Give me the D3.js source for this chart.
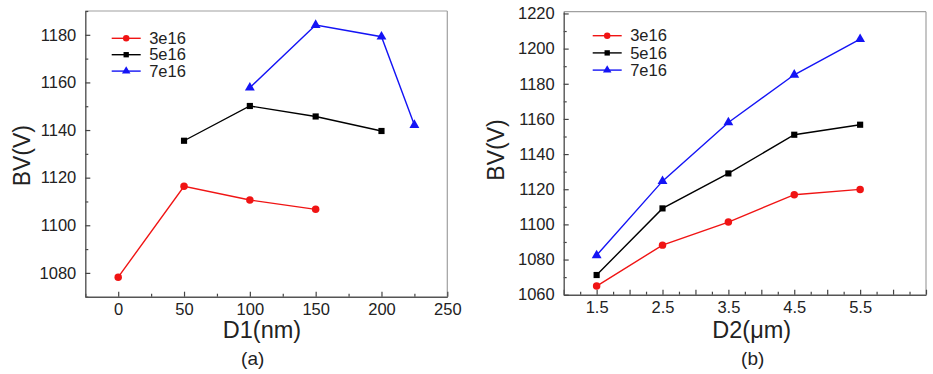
<!DOCTYPE html>
<html>
<head>
<meta charset="utf-8">
<script src="https://cdn.jsdelivr.net/npm/d3@7"></script>
<style>
  body { margin: 0; background: #fff; }
  svg { font-family: "Liberation Sans", Arial, sans-serif; }
</style>
</head>
<body>
<svg id="chart" width="933" height="374"></svg>
<script>
// series names
const seriesNames = ["3e16", "5e16", "7e16"];
const seriesColors = ["#f01414", "#000000", "#1414f5"];

// panel (a): BV vs D1
const d1_3e16 = [0, 50, 100, 150];
const bvA_3e16 = [1078.2, 1116.4, 1110.6, 1106.7];
const d1_5e16 = [50, 100, 150, 200];
const bvA_5e16 = [1135.5, 1150.1, 1145.7, 1139.6];
const d1_7e16 = [100, 150, 200, 225];
const bvA_7e16 = [1157.8, 1184.1, 1179.2, 1142.1];

// panel (b): BV vs D2
const d2 = [1.5, 2.5, 3.5, 4.5, 5.5];
const bvB_3e16 = [1064.9, 1088.2, 1101.3, 1116.9, 1119.9];
const bvB_5e16 = [1071.2, 1109.1, 1129.0, 1151.0, 1156.7];
const bvB_7e16 = [1082.4, 1124.6, 1158.0, 1185.1, 1205.4];

// tick labels
const xTicksA = [0, 50, 100, 150, 200, 250];
const yTicksA = [1080, 1100, 1120, 1140, 1160, 1180];
const xLabelsB = [1.5, 2.5, 3.5, 4.5, 5.5];
const yTicksB = [1060, 1080, 1100, 1120, 1140, 1160, 1180, 1200, 1220];

const svg = d3.select("#chart");
const markers = [d3.symbolCircle, d3.symbolSquare, d3.symbolTriangle];
const markerSize = [44, 38, 42];

function drawPanel(p) {
  let g = svg.append("g");
  let x = d3.scaleLinear().domain(p.xDomain).range([p.left, p.right]);
  let y = d3.scaleLinear().domain(p.yDomain).range([p.bottom, p.top]);

  // frame (top/right lighter)
  g.append("line").attr("x1", p.left).attr("x2", p.right).attr("y1", p.top).attr("y2", p.top)
    .style("stroke", "#a0a0a0").style("stroke-width", 1.2);
  g.append("line").attr("x1", p.right).attr("x2", p.right).attr("y1", p.top).attr("y2", p.bottom)
    .style("stroke", "#a0a0a0").style("stroke-width", 1.2);

  // minor ticks
  g.append("g")
    .attr("transform", "translate(0," + p.bottom + ")")
    .call(d3.axisBottom(x).tickValues(p.xMinor).tickSize(-3).tickFormat(""))
    .call(a => a.select(".domain").remove());
  g.append("g")
    .attr("transform", "translate(" + p.left + ",0)")
    .call(d3.axisLeft(y).tickValues(p.yMinor).tickSize(-3).tickFormat(""))
    .call(a => a.select(".domain").remove());

  // major axes
  let xa = g.append("g")
    .attr("transform", "translate(0," + p.bottom + ")")
    .call(d3.axisBottom(x).tickValues(p.xMajor).tickSize(-5).tickSizeOuter(0).tickPadding(6.8)
      .tickFormat(d => p.xLabels.includes(d) ? p.xFmt(d) : ""));
  let ya = g.append("g")
    .attr("transform", "translate(" + p.left + ",0)")
    .call(d3.axisLeft(y).tickValues(p.yTicks).tickSize(-5).tickSizeOuter(0).tickPadding(9)
      .tickFormat(d3.format("d")));
  g.selectAll(".tick line").style("stroke", "#444").style("stroke-width", 1.2);
  g.selectAll(".domain").style("stroke", "#555").style("stroke-width", 1.4);
  g.selectAll(".tick text").style("font-size", "16.5px").style("fill", "#222");

  // series lines and markers
  p.series.forEach((s, i) => {
    let pts = s.xs.map((v, j) => [x(v), y(s.ys[j])]);
    g.append("path")
      .attr("d", d3.line()(pts))
      .style("fill", "none")
      .style("stroke", seriesColors[i])
      .style("stroke-width", 1.4);
    g.selectAll(null).data(pts).enter().append("path")
      .attr("transform", d => "translate(" + d[0] + "," + d[1] + ")")
      .attr("d", d3.symbol().type(markers[i]).size(markerSize[i]))
      .style("fill", seriesColors[i]);
  });

  // legend
  seriesNames.forEach((name, i) => {
    let ly = p.legY + i * p.legStep;
    g.append("line")
      .attr("x1", p.legX).attr("x2", p.legX + 29)
      .attr("y1", ly).attr("y2", ly)
      .style("stroke", seriesColors[i]).style("stroke-width", 1.4);
    g.append("path")
      .attr("transform", "translate(" + (p.legX + 14.5) + "," + ly + ")")
      .attr("d", d3.symbol().type(markers[i]).size(markerSize[i] * 0.75))
      .style("fill", seriesColors[i]);
    g.append("text")
      .attr("x", p.legX + 37.5)
      .attr("y", ly)
      .attr("dy", "0.35em")
      .text(name)
      .style("font-size", "16.5px")
      .style("fill", "#222");
  });

  // axis titles
  g.append("text")
    .attr("transform", "translate(" + p.yTitleX + "," + p.yTitleY + ")rotate(-90)")
    .text("BV(V)")
    .style("text-anchor", "middle")
    .style("font-size", "23px")
    .style("fill", "#222");
  g.append("text")
    .attr("x", p.xTitleX)
    .attr("y", 338)
    .text(p.xTitle)
    .style("text-anchor", "middle")
    .style("font-size", "23.5px")
    .style("fill", "#222");
  g.append("text")
    .attr("x", p.capX)
    .attr("y", 365)
    .text(p.caption)
    .style("text-anchor", "middle")
    .style("font-size", "19px")
    .style("fill", "#222");
}

drawPanel({
  left: 85.3, right: 447.3, top: 11, bottom: 296.7,
  xDomain: [-25, 250], yDomain: [1070, 1190],
  xMajor: xTicksA, xLabels: xTicksA, xFmt: d3.format("d"),
  xMinor: [-25, 25, 75, 125, 175, 225],
  yTicks: yTicksA, yMinor: [1070, 1090, 1110, 1130, 1150, 1170, 1190],
  series: [
    { xs: d1_3e16, ys: bvA_3e16 },
    { xs: d1_5e16, ys: bvA_5e16 },
    { xs: d1_7e16, ys: bvA_7e16 }
  ],
  legX: 111.7, legY: 38.3, legStep: 16.4,
  yTitleX: 30, yTitleY: 155.7,
  xTitle: "D1(nm)", xTitleX: 262,
  caption: "(a)", capX: 252.7
});

drawPanel({
  left: 563.7, right: 926, top: 11.7, bottom: 294.7,
  xDomain: [1, 6.5], yDomain: [1060, 1221],
  xMajor: d3.range(1, 6.51, 0.5), xLabels: xLabelsB, xFmt: d3.format(".1f"),
  xMinor: d3.range(1.25, 6.5, 0.5),
  yTicks: yTicksB, yMinor: d3.range(1070, 1220, 20),
  series: [
    { xs: d2, ys: bvB_3e16 },
    { xs: d2, ys: bvB_5e16 },
    { xs: d2, ys: bvB_7e16 }
  ],
  legX: 592.7, legY: 35.7, legStep: 17.2,
  yTitleX: 504, yTitleY: 150,
  xTitle: "D2(\u03bcm)", xTitleX: 751.7,
  caption: "(b)", capX: 752.7
});
</script>
</body>
</html>
